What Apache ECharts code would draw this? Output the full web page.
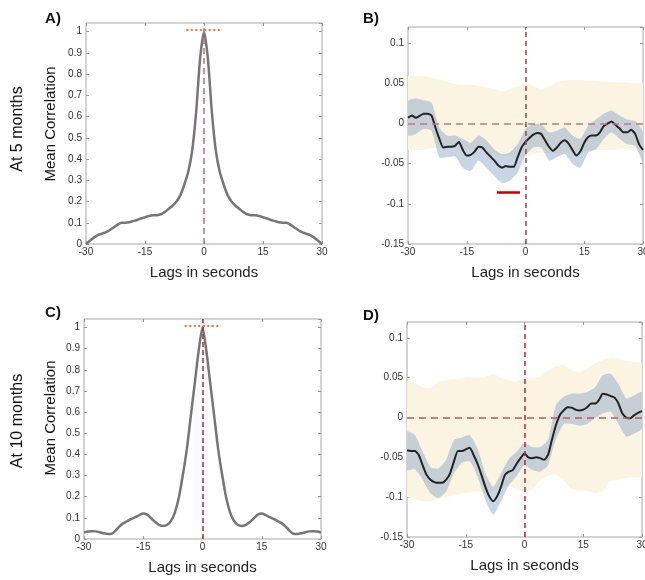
<!DOCTYPE html>
<html>
<head>
<meta charset="utf-8">
<script src="https://cdn.jsdelivr.net/npm/echarts@6/dist/echarts.min.js"></script>
<style>
html,body{margin:0;padding:0;background:#fff;}
#c{width:645px;height:580px;}
</style>
</head>
<body>
<div id="c"></div>
<script>
// ---------- data ----------
const lags = [-30,-29,-28,-27,-26,-25,-24,-23,-22,-21,-20,-19,-18,-17,-16,-15,-14,-13,-12,-11,-10,-9,-8,-7,-6,-5,-4,-3,-2,-1,0,1,2,3,4,5,6,7,8,9,10,11,12,13,14,15,16,17,18,19,20,21,22,23,24,25,26,27,28,29,30];
const bandLags = [-30,-28,-26,-24,-22,-20,-18,-16,-14,-12,-10,-8,-6,-4,-2,0,2,4,6,8,10,12,14,16,18,20,22,24,26,28,30];
const xTicks = [-30,-15,0,15,30];

// Panel A: mean auto-correlation at 5 months
const autoA = [0.000,0.015,0.030,0.042,0.048,0.055,0.065,0.078,0.090,0.100,0.100,0.102,0.108,0.113,0.120,0.126,0.132,0.135,0.135,0.140,0.150,0.165,0.180,0.200,0.230,0.280,0.340,0.440,0.620,0.870,1.000,
               0.870,0.620,0.440,0.340,0.280,0.230,0.200,0.180,0.165,0.150,0.140,0.135,0.135,0.132,0.126,0.120,0.113,0.108,0.102,0.100,0.100,0.090,0.078,0.065,0.055,0.048,0.042,0.030,0.015,0.000];
// Panel C: mean auto-correlation at 10 months
const autoC = [0.031,0.035,0.037,0.036,0.032,0.027,0.024,0.025,0.040,0.060,0.075,0.085,0.095,0.103,0.113,0.121,0.115,0.098,0.080,0.067,0.062,0.066,0.085,0.125,0.195,0.300,0.420,0.575,0.730,0.885,1.000,
               0.885,0.730,0.575,0.420,0.300,0.195,0.125,0.085,0.066,0.062,0.067,0.080,0.098,0.115,0.121,0.113,0.103,0.095,0.085,0.075,0.060,0.040,0.025,0.024,0.027,0.032,0.036,0.037,0.035,0.031];

// Panel B: cross-correlation at 5 months
const meanB = [0.007,0.010,0.007,0.0095,0.012,0.012,0.010,-0.005,-0.019,-0.030,
               -0.029,-0.029,-0.028,-0.023,-0.033,-0.040,-0.039,-0.035,-0.029,-0.030,
               -0.036,-0.041,-0.046,-0.052,-0.055,-0.053,-0.054,-0.054,-0.042,-0.030,
               -0.023,
               -0.018,-0.014,-0.012,-0.013,-0.021,-0.029,-0.034,-0.030,-0.024,-0.021,
               -0.025,-0.033,-0.040,-0.035,-0.024,-0.017,-0.015,-0.015,-0.011,-0.003,
               0.000,0.0025,-0.002,-0.006,-0.011,-0.011,-0.008,-0.013,-0.026,-0.033];
const ciHiB = [0.028,0.031,0.029,0.026,-0.005,-0.015,-0.015,-0.019,-0.024,-0.015,-0.021,-0.032,-0.038,-0.036,-0.026,-0.007,-0.001,-0.001,-0.011,-0.009,-0.005,-0.015,-0.019,-0.003,0.005,0.012,0.016,0.010,0.005,0.003,-0.011];
const ciLoB = [-0.015,-0.013,-0.007,-0.009,-0.042,-0.042,-0.041,-0.055,-0.059,-0.046,-0.055,-0.065,-0.074,-0.071,-0.061,-0.040,-0.030,-0.030,-0.046,-0.042,-0.038,-0.050,-0.055,-0.036,-0.032,-0.019,-0.011,-0.019,-0.026,-0.028,-0.048];
const nullHiB = [0.059,0.059,0.059,0.057,0.055,0.052,0.049,0.048,0.048,0.047,0.045,0.043,0.040,0.043,0.046,0.051,0.047,0.043,0.046,0.051,0.053,0.054,0.054,0.053,0.053,0.052,0.052,0.051,0.051,0.050,0.050];
const nullLoB = [-0.032,-0.033,-0.033,-0.031,-0.030,-0.030,-0.029,-0.030,-0.032,-0.033,-0.036,-0.038,-0.040,-0.041,-0.042,-0.042,-0.038,-0.036,-0.037,-0.037,-0.036,-0.036,-0.035,-0.034,-0.033,-0.033,-0.033,-0.032,-0.032,-0.034,-0.040];

// Panel D: cross-correlation at 10 months
const meanD = [-0.041,-0.042,-0.042,-0.047,-0.060,-0.072,-0.078,-0.081,-0.082,-0.082,
               -0.078,-0.070,-0.055,-0.042,-0.042,-0.040,-0.038,-0.047,-0.058,-0.072,
               -0.087,-0.099,-0.105,-0.099,-0.087,-0.072,-0.068,-0.066,-0.058,-0.051,
               -0.045,
               -0.050,-0.051,-0.050,-0.051,-0.053,-0.047,-0.028,-0.010,0.003,0.009,
               0.013,0.0125,0.010,0.009,0.010,0.013,0.0175,0.0175,0.022,0.030,
               0.029,0.027,0.025,0.0175,0.005,0.000,-0.001,0.003,0.006,0.008];
const ciHiD = [-0.018,-0.022,-0.043,-0.062,-0.064,-0.053,-0.028,-0.025,-0.022,-0.039,-0.070,-0.087,-0.070,-0.052,-0.043,-0.032,-0.037,-0.037,-0.028,0.015,0.026,0.030,0.030,0.032,0.038,0.053,0.055,0.042,0.024,0.028,0.032];
const ciLoD = [-0.066,-0.065,-0.078,-0.095,-0.101,-0.093,-0.070,-0.057,-0.055,-0.074,-0.103,-0.122,-0.105,-0.085,-0.073,-0.060,-0.066,-0.068,-0.060,-0.028,-0.008,-0.008,-0.010,-0.008,-0.001,0.005,0.007,-0.008,-0.024,-0.020,-0.014];
const nullHiD = [0.046,0.043,0.038,0.037,0.045,0.047,0.048,0.049,0.051,0.050,0.051,0.055,0.050,0.047,0.045,0.050,0.050,0.052,0.059,0.064,0.066,0.059,0.057,0.062,0.068,0.072,0.075,0.074,0.071,0.070,0.068];
const nullLoD = [-0.099,-0.102,-0.105,-0.105,-0.102,-0.100,-0.098,-0.095,-0.094,-0.093,-0.095,-0.092,-0.087,-0.086,-0.090,-0.094,-0.090,-0.079,-0.073,-0.072,-0.078,-0.090,-0.092,-0.092,-0.095,-0.092,-0.080,-0.078,-0.076,-0.075,-0.074];

// reference marks
const peakLevel = 1.01, peakSpan = [-4.5, 4.5];       // dotted line at the peak (A, C)
const sigLevelB = -0.086, sigSpanB = [-7.3, -1.4];    // significant lag range (B)

// ---------- chart ----------
const FONT = '"Liberation Sans", Arial, Helvetica, sans-serif';
const grids = [
  {left: 86,  top: 23,  width: 236, height: 221},
  {left: 408, top: 27,  width: 235, height: 217},
  {left: 84,  top: 319, width: 237, height: 220},
  {left: 407, top: 322, width: 235, height: 215}
];
const yCfg = [
  {min: 0, max: 1.04, interval: 0.1},
  {min: -0.15, max: 0.12, interval: 0.05},
  {min: 0, max: 1.04, interval: 0.1},
  {min: -0.15, max: 0.12, interval: 0.05}
];

const tickStyle = {show: true, inside: true, length: 3, lineStyle: {color: '#999'}};
const xAxes = [], yAxes = [];
grids.forEach((g, i) => {
  xAxes.push({
    type: 'value', gridIndex: i, position: 'bottom', min: -30, max: 30, interval: 15,
    axisLine: {show: false, onZero: false}, splitLine: {show: false},
    axisTick: tickStyle,
    axisLabel: {color: '#333', fontSize: 10, fontFamily: FONT, margin: 3},
    name: 'Lags in seconds', nameLocation: 'middle', nameGap: 21,
    nameTextStyle: {color: '#222', fontSize: 15, fontFamily: FONT}
  });
  yAxes.push({
    type: 'value', gridIndex: i, position: 'left', min: yCfg[i].min, max: yCfg[i].max, interval: yCfg[i].interval,
    axisLine: {show: false, onZero: false}, splitLine: {show: false},
    axisTick: tickStyle,
    axisLabel: {color: '#333', fontSize: 10, fontFamily: FONT, margin: 4, showMaxLabel: false}
  });
});
// mirror axes (top / right) for the boxed look
grids.forEach((g, i) => {
  xAxes.push({
    type: 'value', gridIndex: i, position: 'top', min: -30, max: 30, interval: 15,
    axisLine: {show: false, onZero: false}, splitLine: {show: false}, axisLabel: {show: false},
    axisTick: tickStyle
  });
  yAxes.push({
    type: 'value', gridIndex: i, position: 'right', min: yCfg[i].min, max: yCfg[i].max, interval: yCfg[i].interval,
    axisLine: {show: false, onZero: false}, splitLine: {show: false}, axisLabel: {show: false},
    axisTick: tickStyle
  });
});

function pairs(xs, ys) { return xs.map((x, k) => [x, ys[k]]); }

function band(idx, xs, lo, hi, fill, z) {
  return {
    type: 'custom', xAxisIndex: idx, yAxisIndex: idx, z: z, silent: true, clip: true,
    data: xs.map((x, k) => [x, hi[k], lo[k]]),
    encode: {x: 0, y: [1, 2]},
    renderItem: function (params, api) {
      if (params.dataIndex !== 0) return;
      const pts = [];
      for (let k = 0; k < xs.length; k++) pts.push(api.coord([xs[k], hi[k]]));
      for (let k = xs.length - 1; k >= 0; k--) pts.push(api.coord([xs[k], lo[k]]));
      return {type: 'polygon', shape: {points: pts, smooth: 0.2}, style: {fill: fill}};
    }
  };
}

function vline(color, dash) {
  return {xAxis: 0, lineStyle: {color: color, type: dash, width: 1.5}};
}
function hline(color, dash) {
  return {yAxis: 0, lineStyle: {color: color, type: dash, width: 1.5}};
}

const series = [
  // A
  {
    type: 'line', xAxisIndex: 0, yAxisIndex: 0, data: pairs(lags, autoA), smooth: 0.25,
    showSymbol: false, lineStyle: {color: '#767676', width: 2.5}, z: 3,
    markLine: {silent: true, symbol: 'none', label: {show: false}, z: 5,
      data: [vline('#b8717f', [6, 4]),
             [{coord: [peakSpan[0], peakLevel], lineStyle: {color: '#e8743a', type: [2, 2.5], width: 2}},
              {coord: [peakSpan[1], peakLevel]}]]}
  },
  // B
  band(1, bandLags, nullLoB, nullHiB, '#fcf4e2', 1),
  band(1, bandLags, ciLoB, ciHiB, 'rgba(140,168,200,0.48)', 2),
  {
    type: 'line', xAxisIndex: 1, yAxisIndex: 1, data: pairs(lags, meanB), smooth: 0.2,
    showSymbol: false, lineStyle: {color: '#222', width: 2}, z: 3,
    markLine: {silent: true, symbol: 'none', label: {show: false}, z: 5,
      data: [vline('#a3404f', [5, 4]), hline('#c07a80', [7, 5]),
             [{coord: [sigSpanB[0], sigLevelB], lineStyle: {color: '#c00000', type: 'solid', width: 2.5}},
              {coord: [sigSpanB[1], sigLevelB]}]]}
  },
  // C
  {
    type: 'line', xAxisIndex: 2, yAxisIndex: 2, data: pairs(lags, autoC), smooth: 0.25,
    showSymbol: false, lineStyle: {color: '#767676', width: 2.5}, z: 3,
    markLine: {silent: true, symbol: 'none', label: {show: false}, z: 5,
      data: [vline('#b02a44', [5, 3]),
             [{coord: [peakSpan[0], peakLevel], lineStyle: {color: '#e8743a', type: [2, 2.5], width: 2}},
              {coord: [peakSpan[1], peakLevel]}]]}
  },
  // D
  band(3, bandLags, nullLoD, nullHiD, '#fcf4e2', 1),
  band(3, bandLags, ciLoD, ciHiD, 'rgba(140,168,200,0.48)', 2),
  {
    type: 'line', xAxisIndex: 3, yAxisIndex: 3, data: pairs(lags, meanD), smooth: 0.2,
    showSymbol: false, lineStyle: {color: '#222', width: 2}, z: 3,
    markLine: {silent: true, symbol: 'none', label: {show: false}, z: 5,
      data: [vline('#b02a44', [5, 4]), hline('#b85a66', [7, 5])]}
  }
];

function txt(text, x, y, font, rot) {
  return {type: 'text', x: x, y: y, rotation: rot || 0, z: 10,
    style: {text: text, font: font, fill: '#111', textAlign: 'center', textVerticalAlign: 'middle'}};
}
const graphic = [
  txt('A)', 53, 19, 'bold 15px ' + FONT),
  txt('B)', 371, 19, 'bold 15px ' + FONT),
  txt('C)', 53, 313, 'bold 15px ' + FONT),
  txt('D)', 371, 316, 'bold 15px ' + FONT),
  txt('At 5 months', 18, 129, '16px ' + FONT, Math.PI / 2),
  txt('At 10 months', 18, 421, '16px ' + FONT, Math.PI / 2),
  txt('Mean Correlation', 51, 124, '15px ' + FONT, Math.PI / 2),
  txt('Mean Correlation', 51, 418, '15px ' + FONT, Math.PI / 2)
];

const chart = echarts.init(document.getElementById('c'), null, {renderer: 'canvas'});
chart.setOption({
  animation: false,
  backgroundColor: '#fff',
  grid: grids.map(g => Object.assign({show: true, borderColor: '#a8a8a8', borderWidth: 1,
    backgroundColor: 'transparent', containLabel: false, outerBoundsMode: 'none'}, g)),
  xAxis: xAxes,
  yAxis: yAxes,
  series: series,
  graphic: graphic
});
</script>
</body>
</html>
